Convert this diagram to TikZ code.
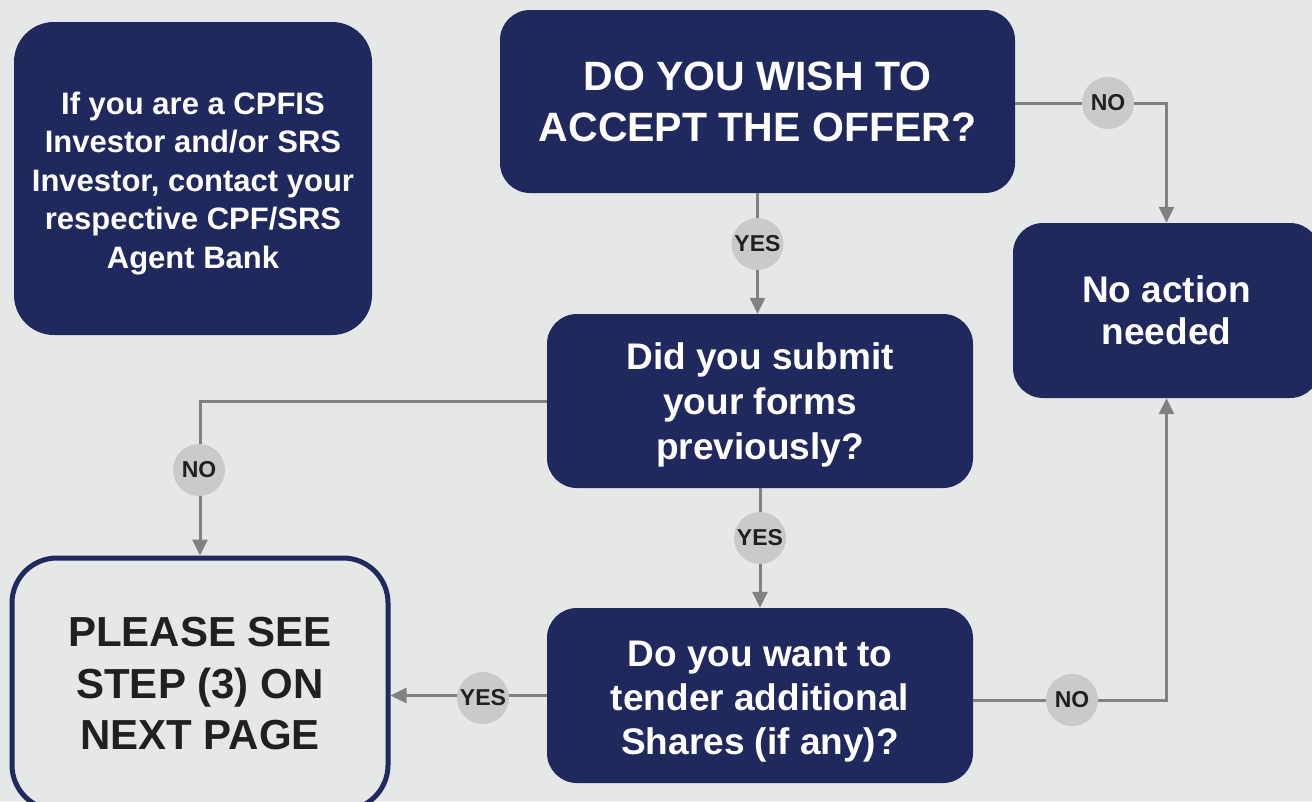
\documentclass[tikz,border=0pt]{standalone}
\usepackage{fontspec}
\setmainfont{Liberation Sans}
\usetikzlibrary{arrows.meta}
\definecolor{navy}{RGB}{31,41,94}
\definecolor{bg}{RGB}{230,231,231}
\definecolor{lbl}{RGB}{201,202,204}
\definecolor{ln}{RGB}{128,129,130}
\definecolor{txt}{RGB}{35,31,32}
\tikzset{
  box/.style={rectangle, rounded corners=30pt, fill=navy, text=white, align=center, inner sep=0pt},
  boxtext/.style={text=white, align=center, inner sep=0pt},
  outbox/.style={rectangle, rounded corners=45pt, draw=navy, line width=5pt, fill=bg, text=txt, align=center, inner sep=0pt},
  lab/.style={circle, fill=lbl, text=txt, minimum size=52pt, inner sep=0pt, font=\bfseries\fontsize{23}{26}\selectfont},
  arr/.style={draw=ln, line width=3pt, -{Triangle[length=16pt,width=15pt]}}
}
\begin{document}
\begin{tikzpicture}[x=1pt,y=-1pt]
\fill[bg] (0,0) rectangle (1312,801);
\useasboundingbox (0,0) rectangle (1312,801);

\node[box, rounded corners=40pt, minimum width=358pt, minimum height=313pt] (cpf) at (193,178.5) {};
\node[boxtext, font=\bfseries\fontsize{31}{38.5}\selectfont] (cpft) at ([yshift=-5pt]cpf.center)
  {If you are a CPFIS\\Investor and/or SRS\\Investor, contact your\\respective CPF/SRS\\Agent Bank};
\node[box, minimum width=515pt, minimum height=183pt,
  font=\bfseries\fontsize{41}{51}\selectfont] (acc) at (757.5,101.5)
  {DO YOU WISH TO\\ACCEPT THE OFFER?};
\node[box, minimum width=307pt, minimum height=175pt,
  font=\bfseries\fontsize{37}{42}\selectfont] (noact) at (1166.5,310.5)
  {No action\\needed};
\node[box, minimum width=426pt, minimum height=174pt] (sub) at (760,401) {};
\node[boxtext, font=\bfseries\fontsize{37}{45}\selectfont] (subt) at ([yshift=-4pt]sub.center)
  {Did you submit\\your forms\\previously?};
\node[box, minimum width=426pt, minimum height=175pt] (ten) at (760,695.5) {};
\node[boxtext, font=\bfseries\fontsize{37}{44}\selectfont] (tent) at ([yshift=-6pt]ten.center)
  {Do you want to\\tender additional\\Shares (if any)?};
\node[outbox, minimum width=376pt, minimum height=252pt,
  font=\bfseries\fontsize{42}{51.5}\selectfont] (see) at (200,684)
  {PLEASE SEE\\STEP (3) ON\\NEXT PAGE};

% connectors
\draw[arr] (acc.east |- 0,103) -| (noact.north);
\draw[arr] (acc.south) -- (acc.south |- sub.north);
\draw[arr] (sub.west) -| (see.north);
\draw[arr] (sub.south) -- (ten.north);
\draw[arr] (ten.west) -- (see.east |- ten.west);
\draw[arr] (ten.east |- 0,700) -| (noact.south);

% labels
\node[lab] (l1) at (1108,103) {NO};
\node[lab] (l2) at (757.5,244) {YES};
\node[lab] (l3) at (199,470) {NO};
\node[lab] (l4) at (760,538) {YES};
\node[lab] (l5) at (483,698) {YES};
\node[lab] (l6) at (1072,700) {NO};
\end{tikzpicture}
\end{document}
